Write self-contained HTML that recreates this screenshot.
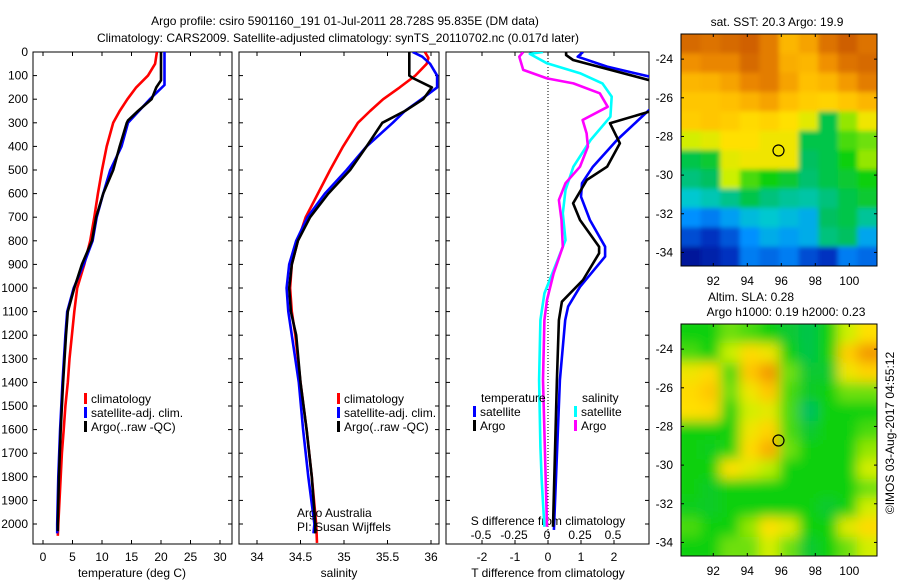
<!DOCTYPE html>
<html><head><meta charset="utf-8"><style>
body{margin:0;background:#fff}
svg{display:block;font-family:"Liberation Sans",sans-serif;font-size:12px}
</style></head><body>
<svg id="fig" width="900" height="580" viewBox="0 0 900 580">
<defs>
<clipPath id="c1"><rect x="33" y="52" width="199" height="492"/></clipPath>
<clipPath id="c2"><rect x="239" y="52" width="200" height="492"/></clipPath>
<clipPath id="c3"><rect x="446" y="52" width="203" height="492"/></clipPath>
<clipPath id="m1"><rect x="681" y="34" width="196" height="232"/></clipPath>
<clipPath id="m2"><rect x="681" y="324" width="196" height="232"/></clipPath>
<filter id="b1" x="-10%" y="-10%" width="120%" height="120%"><feGaussianBlur stdDeviation="2.5"/></filter>
<filter id="b2" x="-10%" y="-10%" width="120%" height="120%"><feGaussianBlur stdDeviation="6"/></filter>
</defs>
<g id="root"></g>
</svg>
<script>
// ---- data ----
const depths=[0,50,100,150,200,250,300,400,500,600,700,800,900,1000,1100,1200,1300,1400,1500,1600,1700,1800,1900,2000,2050];
const tClim=[19.3,19.0,17.8,15.8,14.3,13.0,11.9,10.8,10.0,9.3,8.7,8.0,7.0,5.8,5.3,4.9,4.5,4.2,3.8,3.5,3.2,3.0,2.8,2.6,2.5];
const argoDepths=[0,120,150,200,250,290,300,400,500,600,700,800,900,1000,1100,1200,1400,1600,1800,2000,2030];
const tArgo=[20.0,20.0,19.2,18.4,16.1,14.4,14.2,13.0,11.9,10.2,9.0,8.3,6.6,5.3,4.2,3.9,3.4,3.0,2.7,2.5,2.5];
const satDepths=[0,140,200,300,400,500,600,700,800,900,1000,1100,1200,1400,1600,1800,2000,2040];
const tSat=[20.6,20.6,18.1,14.4,13.3,11.4,10.2,9.1,8.4,6.9,5.2,4.1,3.8,3.3,2.9,2.6,2.4,2.4];
const sClimDepths=[0,25,50,100,150,200,250,300,400,500,600,700,800,900,1000,1100,1200,1400,1600,1800,2000,2080];
const sClim=[35.93,35.97,35.95,35.82,35.64,35.45,35.30,35.16,34.99,34.84,34.70,34.56,34.47,34.40,34.38,34.40,34.44,34.50,34.57,34.63,34.68,34.69];
const sArgoDepths=[0,100,110,150,200,250,300,400,500,600,700,800,900,1000,1100,1200,1400,1600,1800,2000,2040];
const sArgo=[35.75,35.75,35.79,36.01,35.91,35.70,35.44,35.26,35.07,34.82,34.61,34.47,34.40,34.37,34.39,34.45,34.50,34.57,34.63,34.67,34.67];
const sSatDepths=[0,20,50,100,150,200,250,300,400,500,600,700,800,900,1000,1100,1200,1400,1600,1800,2000,2040];
const sSat=[35.79,35.90,35.99,36.07,36.07,35.89,35.70,35.56,35.26,35.03,34.78,34.58,34.45,34.37,34.34,34.36,34.40,34.48,34.53,34.59,34.66,34.65];
const dtArgoDepths=[0,13,34,119,160,230,253,302,387,486,542,641,712,825,853,966,1058,1136,1390,2012];
const dtArgo=[0.55,0.55,0.76,3.06,3.6,3.6,3.06,1.88,2.18,1.79,1.18,0.76,0.97,1.55,1.55,1.06,0.42,0.33,0.27,0.15];
const dtSatDepths=[0,20,62,104,150,230,246,373,486,556,613,712,825,867,995,1079,1136,1390,2025];
const dtSat=[1.06,0.9,1.79,3.06,3.6,3.6,3.06,2.09,1.36,1.03,1.0,1.27,1.73,1.73,0.97,0.61,0.52,0.36,0.18];
const dsArgoDepths=[0,20,76,112,133,175,232,288,345,401,486,556,627,712,825,938,1051,1136,1390,2012];
const dsArgo=[-0.18,-0.21,-0.18,0.0,0.2,0.40,0.46,0.27,0.30,0.31,0.25,0.14,0.09,0.11,0.12,0.05,0.0,-0.02,-0.03,0.0];
const dsSatDepths=[0,8,48,90,133,189,274,373,486,585,684,797,910,1023,1136,1390,1673,1814,2012];
const dsSat=[-0.03,-0.13,0.0,0.25,0.42,0.49,0.48,0.33,0.2,0.14,0.12,0.14,0.06,-0.02,-0.05,-0.06,-0.05,-0.04,-0.02];
const depthTicks=[0,100,200,300,400,500,600,700,800,900,1000,1100,1200,1300,1400,1500,1600,1700,1800,1900,2000];
const tTicks=[0,5,10,15,20,25,30];
const sTicks=[34,34.5,35,35.5,36];
const dtTicks=[-2,-1,0,1,2];
const dsTicks=[-0.5,-0.25,0,0.25,0.5];
const dsTickLabels=["-0.5","-0.25","0","0.25","0.5"];
const latTicks=[-24,-26,-28,-30,-32,-34];
const lonTicks=[92,94,96,98,100];
const argoLat=-28.728, argoLon=95.835;
const sstGrid=[
[0.9,0.88,0.9,0.92,0.86,0.74,0.78,0.88,0.93,0.88],
[0.82,0.84,0.84,0.9,0.86,0.76,0.74,0.82,0.88,0.9],
[0.74,0.75,0.78,0.84,0.86,0.78,0.72,0.74,0.8,0.86],
[0.7,0.7,0.72,0.75,0.78,0.72,0.68,0.66,0.7,0.74],
[0.68,0.7,0.68,0.64,0.66,0.62,0.58,0.4,0.52,0.6],
[0.56,0.58,0.62,0.62,0.6,0.6,0.4,0.4,0.48,0.5],
[0.4,0.42,0.58,0.6,0.6,0.6,0.38,0.4,0.45,0.52],
[0.36,0.38,0.55,0.48,0.45,0.42,0.37,0.4,0.42,0.45],
[0.3,0.32,0.35,0.4,0.36,0.34,0.33,0.36,0.4,0.42],
[0.22,0.2,0.24,0.28,0.3,0.28,0.26,0.38,0.4,0.34],
[0.15,0.12,0.16,0.22,0.26,0.24,0.26,0.36,0.38,0.25],
[0.05,0.08,0.12,0.2,0.18,0.2,0.15,0.12,0.2,0.18]];
const slaGrid=[
[0.45,0.45,0.5,0.48,0.45,0.42,0.4,0.45,0.55,0.62],
[0.48,0.45,0.55,0.64,0.6,0.45,0.4,0.45,0.68,0.8],
[0.6,0.64,0.48,0.7,0.8,0.5,0.42,0.42,0.6,0.66],
[0.64,0.7,0.5,0.6,0.7,0.48,0.43,0.45,0.5,0.5],
[0.62,0.64,0.46,0.56,0.58,0.48,0.38,0.45,0.45,0.45],
[0.45,0.45,0.45,0.6,0.66,0.48,0.42,0.45,0.45,0.48],
[0.45,0.44,0.46,0.64,0.76,0.5,0.45,0.45,0.45,0.52],
[0.45,0.45,0.62,0.58,0.54,0.45,0.45,0.45,0.45,0.56],
[0.45,0.43,0.45,0.45,0.45,0.45,0.45,0.45,0.45,0.5],
[0.44,0.43,0.45,0.45,0.45,0.45,0.45,0.42,0.45,0.56],
[0.48,0.45,0.45,0.52,0.62,0.58,0.45,0.45,0.58,0.64],
[0.45,0.45,0.5,0.5,0.56,0.5,0.42,0.45,0.5,0.56]];

// ---- scales ----
const NS="http://www.w3.org/2000/svg";
const root=document.getElementById('root');
const yD=d=>52+d*0.236;
const xT=t=>43+t*5.9;
const xS=s=>257+(s-34)*87;
const xDT=t=>548+t*33;
const xDS=s=>547+s*132;
function mk(tag,attrs,parent){const e=document.createElementNS(NS,tag);for(const k in attrs)e.setAttribute(k,attrs[k]);(parent||root).appendChild(e);return e;}
function txt(x,y,s,anchor,parent){const e=mk('text',{x:x,y:y,'text-anchor':anchor||'start',fill:'#000'},parent);e.textContent=s;return e;}

function profile(ds,vs,xf,color,clip,name){
  const pts=ds.map((d,i)=>xf(vs[i]).toFixed(1)+','+yD(d).toFixed(1)).join(' ');
  const p=mk('polyline',{points:pts,fill:'none',stroke:color,'stroke-width':2.6,'clip-path':'url(#'+clip+')','stroke-linejoin':'round'});
  
  
}
function frame(x0,x1,name){
  const r=mk('rect',{x:x0,y:52,width:x1-x0,height:492,fill:'none',stroke:'#000','stroke-width':1});
  
  
  depthTicks.forEach(d=>{const y=yD(d);mk('line',{x1:x0,x2:x0+4,y1:y,y2:y,stroke:'#000'});mk('line',{x1:x1-4,x2:x1,y1:y,y2:y,stroke:'#000'});});
}
function xticks(ticks,xf,labels,ly){
  ticks.forEach((t,i)=>{const x=xf(t);mk('line',{x1:x,x2:x,y1:544,y2:540,stroke:'#000'});mk('line',{x1:x,x2:x,y1:52,y2:56,stroke:'#000'});
    const l=txt(x,ly,labels?labels[i]:String(t),'middle');
    
    });
}
function legendEntry(x,y,color,label){
  const g=mk('g',{});
  
  
  mk('rect',{x:x,y:y-10,width:3,height:11,fill:color},g);
  txt(x+7,y,label,'start',g);
}

// titles
const t1=txt(345,25,'Argo profile: csiro 5901160_191 01-Jul-2011 28.728S 95.835E (DM data)','middle');


const t2=txt(338,42,'Climatology: CARS2009. Satellite-adjusted climatology: synTS_20110702.nc (0.017d later)','middle');



// panel 1
frame(33,232,'temperature-panel');
depthTicks.forEach(d=>{const l=txt(28,yD(d)+4,String(d),'end');
  
  });
xticks(tTicks,xT,null,561);
const xl1=txt(132,577,'temperature (deg C)','middle');


profile(depths,tClim,xT,'#ff0000','c1','temp-climatology-line');
profile(satDepths,tSat,xT,'#0000ff','c1','temp-satellite-line');
profile(argoDepths,tArgo,xT,'#000000','c1','temp-argo-line');
legendEntry(84,403,'#ff0000','climatology');
legendEntry(84,417,'#0000ff','satellite-adj. clim.');
legendEntry(84,431,'#000000','Argo(..raw -QC)');

// panel 2
frame(239,439,'salinity-panel');
xticks(sTicks,xS,null,561);
const xl2=txt(339,577,'salinity','middle');


profile(sClimDepths,sClim,xS,'#ff0000','c2','sal-climatology-line');
profile(sSatDepths,sSat,xS,'#0000ff','c2','sal-satellite-line');
profile(sArgoDepths,sArgo,xS,'#000000','c2','sal-argo-line');
legendEntry(337,403,'#ff0000','climatology');
legendEntry(337,417,'#0000ff','satellite-adj. clim.');
legendEntry(337,431,'#000000','Argo(..raw -QC)');
txt(297,517,'Argo Australia');
txt(297,531,'PI: Susan Wijffels');

// panel 3
frame(446,649,'difference-panel');
mk('line',{x1:xDT(0),x2:xDT(0),y1:52,y2:544,stroke:'#000','stroke-dasharray':'1,2'});
xticks(dtTicks,xDT,null,561);
dsTicks.forEach((s,i)=>{const l=txt(xDS(s),539,dsTickLabels[i],'middle');
  
  });
txt(548,525,'S difference from climatology','middle');
const xl3=txt(548,577,'T difference from climatology','middle');


profile(dsSatDepths,dsSat,xDS,'#00ffff','c3','sdiff-satellite-line');
profile(dsArgoDepths,dsArgo,xDS,'#ff00ff','c3','sdiff-argo-line');
profile(dtSatDepths,dtSat,xDT,'#0000ff','c3','tdiff-satellite-line');
profile(dtArgoDepths,dtArgo,xDT,'#000000','c3','tdiff-argo-line');
txt(481,402,'temperature');
txt(582,402,'salinity');
legendEntry(473,416,'#0000ff','satellite');
legendEntry(473,430,'#000000','Argo');
legendEntry(574,416,'#00ffff','satellite');
legendEntry(574,430,'#ff00ff','Argo');

// maps
const cstops=[[0,[0,0,127]],[0.12,[0,48,192]],[0.22,[0,144,255]],[0.3,[0,200,208]],[0.38,[0,192,96]],[0.45,[16,208,16]],[0.55,[204,240,0]],[0.62,[255,224,0]],[0.72,[255,192,0]],[0.82,[240,144,0]],[0.92,[208,96,0]],[1,[190,80,0]]];
function cmap(v){for(let i=1;i<cstops.length;i++){if(v<=cstops[i][0]){const a=cstops[i-1],b=cstops[i];const f=(v-a[0])/(b[0]-a[0]);const c=a[1].map((q,k)=>Math.round(q+(b[1][k]-q)*f));return 'rgb('+c.join(',')+')';}}return 'rgb(190,80,0)';}
function map(grid,top,clip,filt,name){
  const lon0=90.1,lat0=-22.7;
  const xL=lon=>681+(lon-lon0)*17, yL=lat=>top+(lat0-lat)*19.33;
  const g=mk('g',{'clip-path':'url(#'+clip+')'});
  
  
  const g2=mk('g',{filter:'url(#'+filt+')'},g);
  const rows=grid.length, cols=grid[0].length;
  const cw=196/cols, ch=232/rows;
  mk('rect',{x:671,y:top-10,width:216,height:252,fill:cmap(grid[6][5])},g2);
  grid.forEach((row,r)=>row.forEach((v,c)=>{
    const cell=mk('rect',{x:681+c*cw-(c===0?10:0),y:top+r*ch-(r===0?10:0),width:cw+0.5+(c===0||c===cols-1?10:0),height:ch+0.5+(r===0||r===rows-1?10:0),fill:cmap(v)},g2);
    
    
  }));
  mk('rect',{x:681,y:top,width:196,height:232,fill:'none',stroke:'#000'});
  latTicks.forEach(l=>{const y=yL(l);mk('line',{x1:681,x2:684,y1:y,y2:y,stroke:'#000'});mk('line',{x1:874,x2:877,y1:y,y2:y,stroke:'#000'});txt(673,y+4,String(l),'end');});
  lonTicks.forEach(l=>{const x=xL(l);mk('line',{x1:x,x2:x,y1:top,y2:top+3,stroke:'#000'});mk('line',{x1:x,x2:x,y1:top+229,y2:top+232,stroke:'#000'});txt(x,top+251,String(l),'middle');});
  const c=mk('circle',{cx:xL(argoLon),cy:yL(argoLat),r:5.5,fill:'none',stroke:'#000','stroke-width':1.2});
  
  
}
map(sstGrid,34,'m1','b1','sst-map');
map(slaGrid,324,'m2','b2','sla-map');
txt(777,26,'sat. SST: 20.3 Argo: 19.9','middle');
txt(751,301,'Altim. SLA: 0.28','middle');
txt(786,316,'Argo h1000: 0.19 h2000: 0.23','middle');
const im=txt(0,0,'©IMOS 03-Aug-2017 04:55:12','middle');
im.setAttribute('transform','translate(894,433) rotate(-90)');


</script>
</body></html>
